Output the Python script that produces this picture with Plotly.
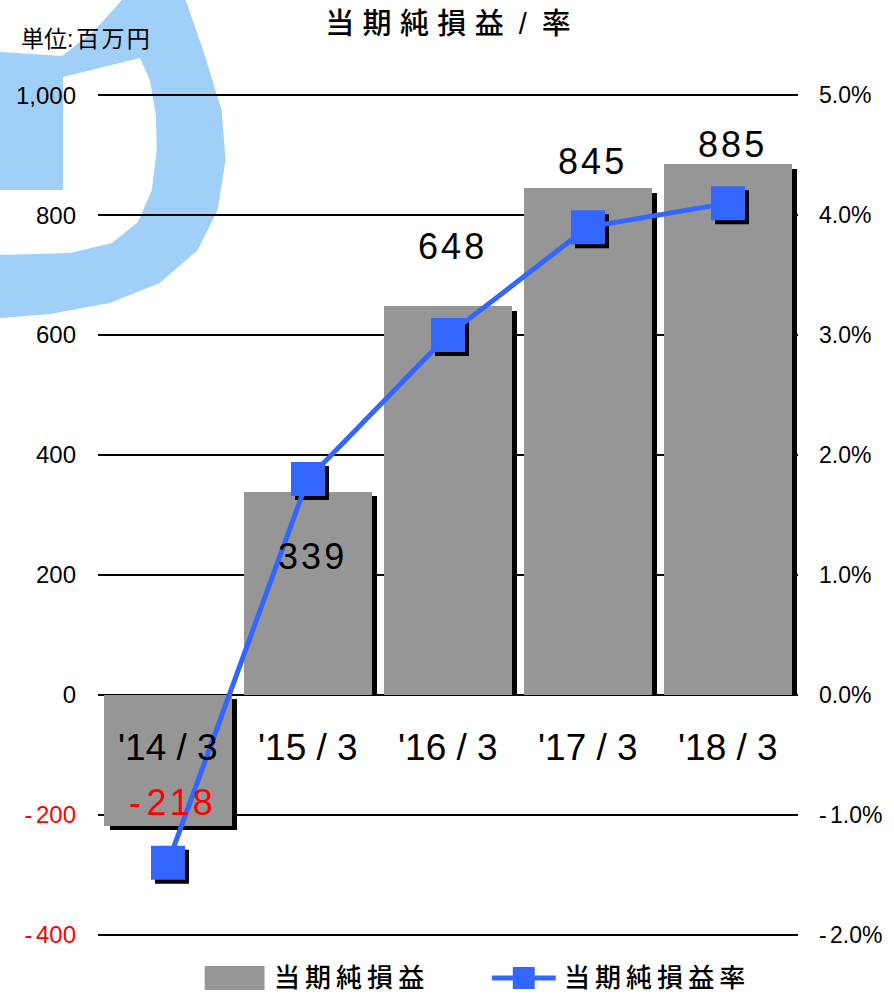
import plotly.graph_objects as go

# ---------------- data ----------------
periods = ["'14 / 3", "'15 / 3", "'16 / 3", "'17 / 3", "'18 / 3"]
net_income = [-218, 339, 648, 845, 885]          # 百万円
net_margin = [-1.4, 1.8, 3.0, 3.9, 4.1]          # %
left_ticks = [-400, -200, 0, 200, 400, 600, 800, 1000]
right_ticks = [-2, -1, 0, 1, 2, 3, 4, 5]

# ---------------- style / layout constants ----------------
W, H = 894, 996
ML, MR, MT, MB = 98, 94, 94, 60
PW, PH = W - ML - MR, H - MT - MB
FONT = "Liberation Sans, Arial, Noto Sans CJK JP"
GRAY = "#969696"
BLUE = "#3366ff"
RED = "#ff0000"
WM = "#a0d0f8"

label_y = [-180, 231, 748, 890, 917]   # where each value label sits (left-axis units)
cat_label_y = -88                       # category label row (left-axis units)
YPAD = 2                                # small range padding so edge gridlines show


def px_x(px):
    return (px - ML) / PW


def px_y(py):
    return (H - MB - py) / PH


def sp(size):
    return '<span style="font-size:%dpx">\u00a0</span>' % size


def spaced(s, gap):
    return sp(gap).join(list(s))


xs = list(range(len(periods)))
BW = 0.912
SHX = 5.5 / (PW / len(periods))   # shadow x shift (category units)
SHY = 7.5                         # shadow y shift (left-axis units)

shadow_base = [0 if v > 0 else -SHY for v in net_income]
shadow_h = [v - SHY - b for v, b in zip(net_income, shadow_base)]

fig = go.Figure()

fig.add_trace(go.Bar(x=xs, y=shadow_h, base=shadow_base, width=BW, offset=-BW / 2 + SHX,
                     marker=dict(color="black", line=dict(width=0)),
                     showlegend=False, hoverinfo="skip"))
fig.add_trace(go.Bar(x=xs, y=net_income, width=BW, offset=-BW / 2, name="当期純損益",
                     marker=dict(color=GRAY, line=dict(width=0)), showlegend=False))

mshx = 4 / (PW / len(periods))
mshy = 4 / 120.0
fig.add_trace(go.Scatter(x=[x + mshx for x in xs], y=[m - mshy for m in net_margin], yaxis="y2",
                         mode="markers", marker=dict(symbol="square", size=34, color="black"),
                         showlegend=False, hoverinfo="skip", cliponaxis=False))
fig.add_trace(go.Scatter(x=xs, y=net_margin, yaxis="y2", mode="lines+markers", name="当期純損益率",
                         line=dict(color=BLUE, width=5),
                         marker=dict(symbol="square", size=34, color=BLUE),
                         showlegend=False, cliponaxis=False))

# value labels
annotations = []
for x, v, ly in zip(xs, net_income, label_y):
    digits = spaced(str(abs(v)), 11)
    txt = ("-" + sp(20) + digits) if v < 0 else digits
    annotations.append(dict(x=x, y=ly, xref="x", yref="y", text=txt, showarrow=False,
                            xanchor="center", yanchor="middle", xshift=3,
                            font=dict(family=FONT, size=36, color=RED if v < 0 else "black")))
# category labels
for x, p in zip(xs, periods):
    annotations.append(dict(x=x, y=cat_label_y, xref="x", yref="y", text=p, showarrow=False,
                            xanchor="center", yanchor="middle",
                            font=dict(family=FONT, size=37, color="black")))

# unit label
annotations.append(dict(x=px_x(85), y=px_y(39), xref="paper", yref="paper",
                        text="単位:" + sp(10) + spaced("百万円", 8), showarrow=False,
                        xanchor="center", yanchor="middle",
                        font=dict(family=FONT, size=23, color="black")))

# manual legend
LEG_Y = 978
annotations.append(dict(x=px_x(272), y=px_y(LEG_Y), xref="paper", yref="paper",
                        text=spaced("当期純損益", 18), showarrow=False, xanchor="left", yanchor="middle",
                        font=dict(family=FONT, size=26, color="black", weight=500)))
annotations.append(dict(x=px_x(563), y=px_y(LEG_Y), xref="paper", yref="paper",
                        text=spaced("当期純損益率", 18), showarrow=False, xanchor="left", yanchor="middle",
                        font=dict(family=FONT, size=26, color="black", weight=500)))

# watermark (pixel outline)
wm_pts = [(0, 318), (50, 314), (110, 303), (160, 283), (198, 250), (218, 210), (226, 160),
          (222, 110), (205, 55), (186, 0), (182, -8), (128, -8), (122, 0), (95, 30),
          (62, 56), (0, 52), (-8, 52), (-8, 190),
          (63, 190), (63, 77), (140, 58), (150, 80), (156, 115), (157, 150), (152, 190),
          (138, 222), (112, 243), (70, 253), (0, 255), (-8, 255), (-8, 318)]
path = "M " + " L ".join("%.4f,%.4f" % (px_x(a), px_y(b)) for a, b in wm_pts) + " Z"

shapes = [
    dict(type="path", path=path, xref="paper", yref="paper", fillcolor=WM,
         line=dict(width=0), layer="below"),
    dict(type="rect", xref="paper", yref="paper", x0=px_x(205), x1=px_x(265),
         y0=px_y(990), y1=px_y(966), fillcolor=GRAY, line=dict(width=0)),
    dict(type="line", xref="paper", yref="paper", x0=px_x(493), x1=px_x(557),
         y0=px_y(LEG_Y), y1=px_y(LEG_Y), line=dict(color=BLUE, width=5)),
    dict(type="rect", xref="paper", yref="paper", x0=px_x(514), x1=px_x(536),
         y0=px_y(989), y1=px_y(967), fillcolor=BLUE, line=dict(width=0)),
]

left_text = []
for t in left_ticks:
    if t < 0:
        left_text.append('<span style="color:%s">-%s%d</span>' % (RED, sp(12), abs(t)))
    else:
        left_text.append("{:,}".format(t))
right_text = []
for t in right_ticks:
    if t < 0:
        right_text.append("-%s%.1f%%" % (sp(12), abs(t)))
    else:
        right_text.append("%.1f%%" % t)

title_txt = spaced("当期純損益", 30) + sp(27) + sp(27) + "/" + sp(27) + sp(27) + "率"

ratio = (left_ticks[-1] - left_ticks[0]) / (right_ticks[-1] - right_ticks[0])

fig.update_layout(
    width=W, height=H,
    margin=dict(l=ML, r=MR, t=MT, b=MB, pad=0),
    paper_bgcolor="white", plot_bgcolor="rgba(0,0,0,0)",
    barmode="overlay", bargap=0,
    showlegend=False,
    font=dict(family=FONT, color="black"),
    title=dict(text=title_txt, x=0.5, xref="paper", xanchor="center",
               y=1 - 24 / H, yref="container", yanchor="middle",
               font=dict(family=FONT, size=29, color="black", weight=500)),
    xaxis=dict(range=[-0.5, len(periods) - 0.5], visible=False, showgrid=False, zeroline=False),
    yaxis=dict(range=[left_ticks[0] - YPAD, left_ticks[-1] + YPAD], tickmode="array",
               tickvals=left_ticks, ticktext=left_text, showgrid=True, gridcolor="black",
               gridwidth=1.5, zeroline=False, showline=False, ticks="", ticklabelstandoff=21,
               tickfont=dict(family=FONT, size=24, color="black")),
    yaxis2=dict(range=[right_ticks[0] - YPAD / ratio, right_ticks[-1] + YPAD / ratio],
                overlaying="y", side="right",
                tickmode="array", tickvals=right_ticks, ticktext=right_text,
                showgrid=False, zeroline=False, showline=False, ticks="", ticklabelstandoff=20,
                tickfont=dict(family=FONT, size=23, color="black")),
    annotations=annotations,
    shapes=shapes,
)

fig.write_html("out.html", config={"displayModeBar": False},
               post_script="document.body.style.margin='0px';")
